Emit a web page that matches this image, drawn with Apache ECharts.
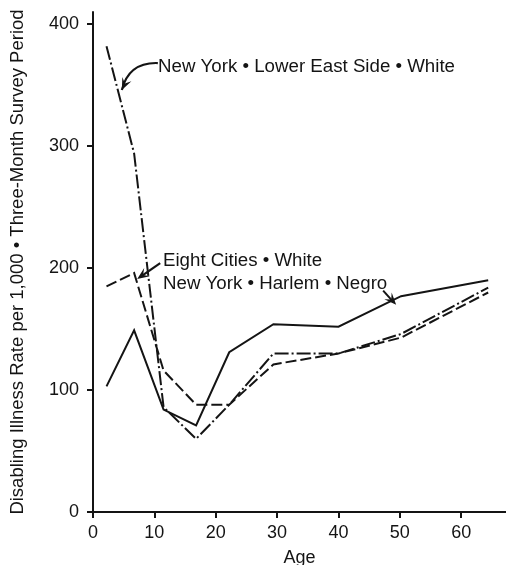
<!DOCTYPE html>
<html>
<head>
<meta charset="utf-8">
<script src="https://cdn.jsdelivr.net/npm/echarts@6/dist/echarts.min.js"></script>
<style>
  html, body { margin: 0; padding: 0; background: #fff; }
  #chart { width: 506px; height: 565px; }
</style>
</head>
<body>
<div id="chart"></div>
<script>
// Age-group midpoints (years) and disabling illness rates per 1,000
const ages = [2.2, 6.7, 11.5, 16.8, 22.2, 29.4, 40.0, 50.2, 64.4];
const harlemNegro = [103, 149, 84, 71, 131, 154, 152, 177, 190];
const eightCitiesWhite = [185, 196, 116, 88, 88, 121, 130, 143, 180];
const lowerEastSideWhite = [382, 294, 86, 60, 88, 130, 130, 146, 184];

const xTicks = [0, 10, 20, 30, 40, 50, 60];
const yTicks = [0, 100, 200, 300, 400];

const FONT = '"Liberation Sans", Arial, Helvetica, sans-serif';
const INK = '#141414';

const pairs = (vals) => ages.map((a, i) => [a, vals[i]]);

const chart = echarts.init(document.getElementById('chart'), null, { renderer: 'canvas' });

const lineSeries = (name, vals, type) => ({
  name: name,
  type: 'line',
  data: pairs(vals),
  showSymbol: false,
  symbol: 'none',
  animation: false,
  lineStyle: { color: INK, width: 2, type: type, cap: 'butt', join: 'miter' },
  z: 3
});

chart.setOption({
  animation: false,
  backgroundColor: '#fff',
  grid: { left: 93, right: 0, top: 12, bottom: 53, containLabel: false, outerBoundsMode: 'none' },
  xAxis: {
    type: 'value',
    min: 0,
    max: 67.3,
    interval: 10,
    name: 'Age',
    nameLocation: 'middle',
    nameGap: 37,
    nameTextStyle: { fontFamily: FONT, fontSize: 18, color: INK },
    axisLine: { show: true, onZero: false, lineStyle: { color: INK, width: 2 } },
    axisTick: { show: true, inside: false, length: 6, lineStyle: { color: INK, width: 2 }, customValues: xTicks },
    axisLabel: { fontFamily: FONT, fontSize: 18, color: INK, margin: 12, customValues: xTicks },
    splitLine: { show: false }
  },
  yAxis: {
    type: 'value',
    min: 0,
    max: 410,
    interval: 100,
    name: 'Disabling Illness Rate per 1,000 \u2022 Three-Month Survey Period',
    nameLocation: 'middle',
    nameGap: 66,
    nameTextStyle: { fontFamily: FONT, fontSize: 18.5, color: INK },
    axisLine: { show: true, onZero: false, lineStyle: { color: INK, width: 2 } },
    axisTick: { show: true, inside: false, length: 6, lineStyle: { color: INK, width: 2 }, customValues: yTicks },
    axisLabel: { fontFamily: FONT, fontSize: 18, color: INK, margin: 14, customValues: yTicks },
    splitLine: { show: false }
  },
  series: [
    lineSeries('New York \u2022 Harlem \u2022 Negro', harlemNegro, 'solid'),
    lineSeries('Eight Cities \u2022 White', eightCitiesWhite, [11, 4]),
    lineSeries('New York \u2022 Lower East Side \u2022 White', lowerEastSideWhite, [14, 3, 2, 3])
  ]
});

// Annotation arrows: tips are anchored to data coordinates on the lines
const px = (pt) => chart.convertToPixel({ gridIndex: 0 }, pt);

function arrowHead(tip, from, len, half) {
  const dx = tip[0] - from[0], dy = tip[1] - from[1];
  const d = Math.hypot(dx, dy) || 1;
  const ux = dx / d, uy = dy / d;
  const bx = tip[0] - ux * len, by = tip[1] - uy * len;
  return {
    type: 'polygon',
    shape: { points: [tip, [bx - uy * half, by + ux * half], [tip[0] - ux * len * 0.6, tip[1] - uy * len * 0.6], [bx + uy * half, by - ux * half]] },
    style: { fill: INK },
    z: 10
  };
}

const lesTip = px([4.7, 346]);
const lesStart = [lesTip[0] + 36, lesTip[1] - 27];
const lesCtrl = [lesTip[0] + 7, lesTip[1] - 28];

const ecTip = px([7.2, 191]);
const ecStart = [ecTip[0] + 23, ecTip[1] - 16];

const hTip = px([49.4, 170]);
const hStart = [hTip[0] - 13, hTip[1] - 14];

const textStyle = (t, x, y) => ({
  type: 'text',
  x: x, y: y,
  style: { text: t, fontFamily: FONT, fontSize: 18.7, fill: INK, verticalAlign: 'middle', align: 'left' },
  z: 10
});

chart.setOption({
  graphic: [
    {
      type: 'bezierCurve',
      shape: { x1: lesStart[0], y1: lesStart[1], x2: lesTip[0], y2: lesTip[1], cpx1: lesCtrl[0], cpy1: lesCtrl[1] },
      style: { stroke: INK, lineWidth: 2.2, fill: null },
      z: 10
    },
    arrowHead(lesTip, [lesTip[0] + 6, lesTip[1] - 13], 12, 5),
    {
      type: 'line',
      shape: { x1: ecStart[0], y1: ecStart[1], x2: ecTip[0] + 5, y2: ecTip[1] - 3.5 },
      style: { stroke: INK, lineWidth: 2.2 },
      z: 10
    },
    arrowHead(ecTip, ecStart, 12, 5),
    {
      type: 'line',
      shape: { x1: hStart[0], y1: hStart[1], x2: hTip[0] - 4, y2: hTip[1] - 4 },
      style: { stroke: INK, lineWidth: 2 },
      z: 10
    },
    arrowHead(hTip, hStart, 12, 5),
    textStyle('New York \u2022 Lower East Side \u2022 White', 158, 67),
    textStyle('Eight Cities \u2022 White', 163, 261),
    textStyle('New York \u2022 Harlem \u2022 Negro', 163, 284)
  ]
});
</script>
</body>
</html>
